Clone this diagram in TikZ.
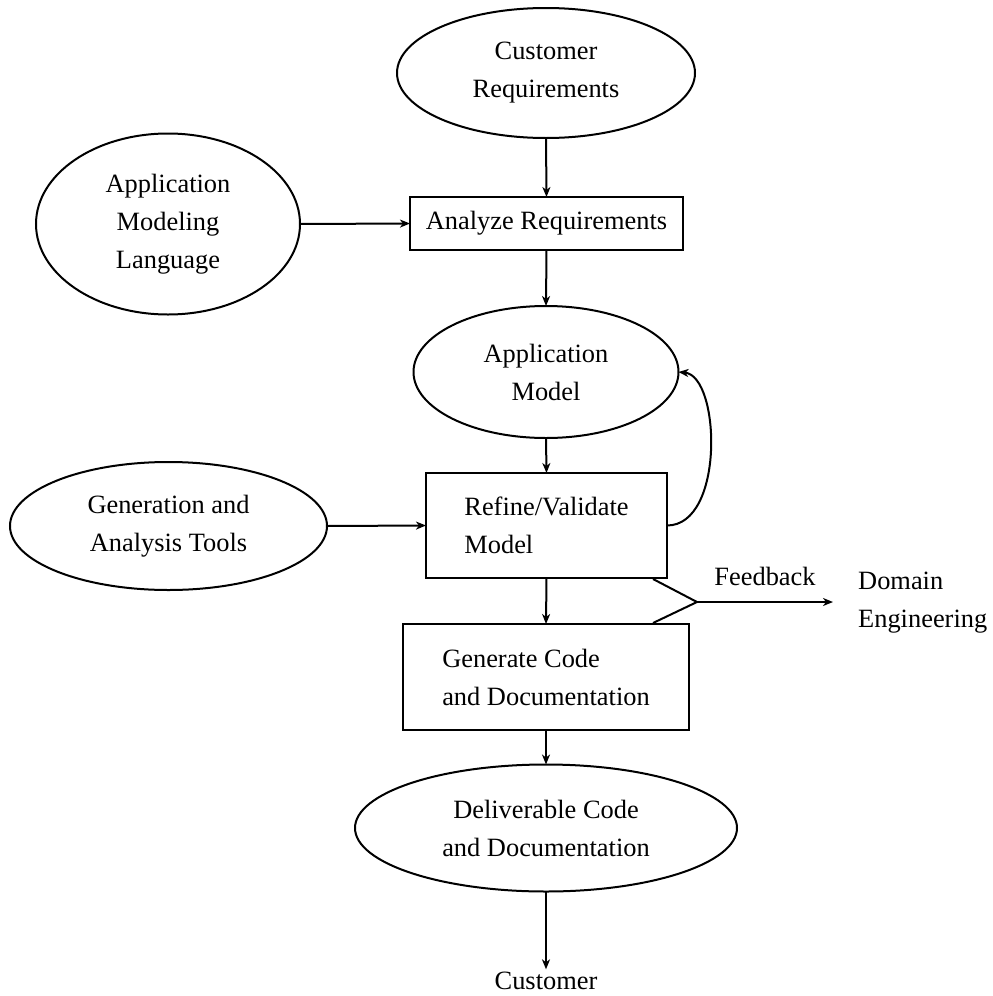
\documentclass[tikz,border=0pt]{standalone}
\usepackage{fontspec}
\setmainfont{Liberation Serif}
\usetikzlibrary{shapes.geometric,arrows.meta}
\begin{document}
\begin{tikzpicture}[x=1pt,y=-1pt,
  txt/.style={font=\fontsize{26.4}{38}\selectfont, align=center},
  ell/.style={txt, draw, ellipse, line width=2pt, inner sep=0pt, outer sep=0pt},
  boxn/.style={txt, draw, rectangle, line width=2pt, inner sep=0pt, outer sep=0pt},
  arr/.style={line width=2pt, -{Stealth[length=10pt,width=8pt,inset=3pt]}},
  ln/.style={line width=2pt}
]
\useasboundingbox (0,0) rectangle (993,996);
\node[ell, minimum width=298pt, minimum height=130pt] (cr) at (546,73) {Customer\\Requirements};
\node[boxn, minimum width=273pt, minimum height=53pt] (ar) at (546.5,223.5) {Analyze Requirements};
\node[ell, minimum width=264pt, minimum height=181pt] (aml) at (168,224) {Application\\Modeling\\Language};
\node[ell, minimum width=265pt, minimum height=132pt] (am) at (546,372) {Application\\Model};
\node[boxn, minimum width=241pt, minimum height=105pt, align=left] (rv) at (546.5,525.5) {Refine/Validate\\Model};
\node[ell, minimum width=317pt, minimum height=128pt] (gat) at (168.5,526) {Generation and\\Analysis Tools};
\node[boxn, minimum width=286pt, minimum height=106pt, align=left] (gc) at (546,677) {Generate Code\\and Documentation};
\node[ell, minimum width=382pt, minimum height=127pt] (dcd) at (546,828) {Deliverable Code\\and Documentation};
\node[txt, anchor=base, inner sep=2pt] (cust) at (546,989) {Customer};
\node[txt, anchor=base] (fbl) at (765,585) {Feedback};
\node[txt, align=left, anchor=west, inner sep=0pt] (de) at (858,603) {Domain\\Engineering};

\coordinate (fa) at (653,579);
\coordinate (fb) at (653,623);
\coordinate (fj) at (697,602);
\coordinate (fe) at (833,602);

\draw[arr] (cr.south) -- (ar.north);
\draw[arr] (aml.east) -- (ar.west);
\draw[arr] (ar.south) -- (am.north);
\draw[arr] (am.south) -- (rv.north);
\draw[arr] (gat.east) -- (rv.west);
\draw[arr] (rv.south) -- (gc.north);
\draw[arr] (gc.south) -- (dcd.north);
\draw[arr] (dcd.south) -- (cust.north);
\draw[arr] (rv.east) .. controls +(58,0) and +(42,4) .. (am.east);
\draw[ln] (fa) -- (fj) -- (fb);
\draw[arr] (fj) -- (fe);
\end{tikzpicture}
\end{document}
